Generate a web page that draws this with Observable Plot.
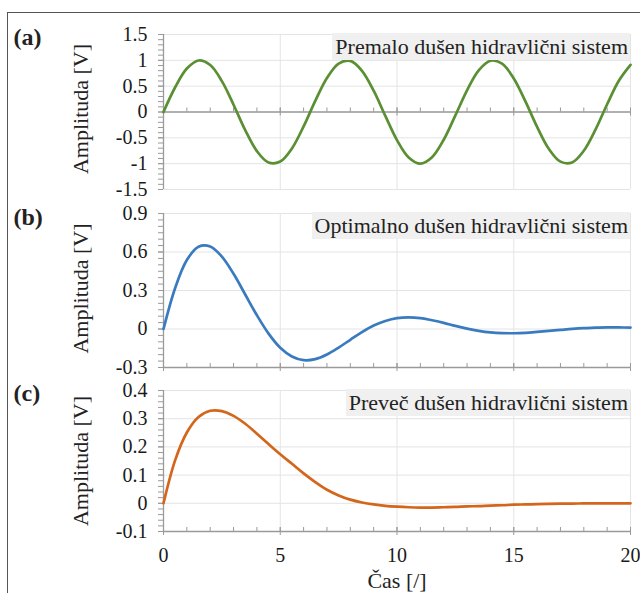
<!DOCTYPE html>
<html><head><meta charset="utf-8">
<script src="https://cdn.jsdelivr.net/npm/d3@7"></script>
<script src="https://cdn.jsdelivr.net/npm/@observablehq/plot@0.6"></script>
<style>
body{margin:0;background:#fff;}
#wrap{position:relative;width:640px;height:593px;overflow:hidden;font-family:"Liberation Serif","Times New Roman",serif;}
#frame{position:absolute;left:7px;top:12px;width:700px;height:700px;border-left:1px solid #555;border-top:1px solid #555;}
.panel{position:absolute;left:0;}
.ttl{position:absolute;right:10px;height:27px;background:#f0f0f0;color:#222;font-size:22px;line-height:27px;padding:0 2px 0 3px;white-space:nowrap;}
</style></head>
<body><div id="wrap"><div id="frame"></div></div>
<script>
const time = [0,0.5,1,1.5,2,2.5,3,3.5,4,4.5,5,5.5,6,6.5,7,7.5,8,8.5,9,9.5,10,10.5,11,11.5,12,12.5,13,13.5,14,14.5,15,15.5,16,16.5,17,17.5,18,18.5,19,19.5,20];
const underdamped = [0,0.479,0.841,0.997,0.909,0.598,0.141,-0.351,-0.757,-0.978,-0.959,-0.706,-0.279,0.215,0.657,0.938,0.989,0.798,0.412,-0.075,-0.544,-0.880,-1.000,-0.875,-0.537,-0.066,0.420,0.804,0.991,0.935,0.650,0.206,-0.288,-0.712,-0.961,-0.976,-0.751,-0.342,0.150,0.605,0.913];
const optimal = [0,0.320,0.537,0.641,0.643,0.564,0.430,0.269,0.107,-0.036,-0.146,-0.214,-0.243,-0.235,-0.199,-0.145,-0.084,-0.024,0.027,0.063,0.085,0.091,0.085,0.068,0.048,0.024,0.003,-0.014,-0.026,-0.032,-0.033,-0.030,-0.023,-0.015,-0.007,0.001,0.007,0.010,0.013,0.012,0.011];
const overdamped = [0,0.153,0.251,0.306,0.328,0.327,0.310,0.282,0.247,0.210,0.174,0.140,0.106,0.075,0.048,0.028,0.013,0.003,-0.004,-0.009,-0.012,-0.014,-0.015,-0.015,-0.014,-0.013,-0.011,-0.010,-0.008,-0.007,-0.005,-0.004,-0.003,-0.002,-0.0015,-0.001,-0.0005,0,0,0,0];

const xTicks = [0,5,10,15,20];
const xGrid = [5,10,15,20];
const yTicksA = [-1.5,-1,-0.5,0,0.5,1,1.5];
const yTicksB = [-0.3,0,0.3,0.6,0.9];
const yTicksC = [-0.1,0,0.1,0.2,0.3,0.4];
const panelLabels = ["(a)","(b)","(c)"];
const titles = ["Premalo dušen hidravlični sistem","Optimalno dušen hidravlični sistem","Preveč dušen hidravlični sistem"];
const yLabel = "Amplituda [V]";
const xLabel = "Čas [/]";

const wrap = document.getElementById("wrap");
const AX = "#9a9a9a", GRID = "#e4e4e4";

function panel(o) {
  const {values, color, yTicks, minorStep, top, height, mt, mb, axisAt, showX, label, title} = o;
  const yMin = yTicks[0], yMax = yTicks[yTicks.length-1];
  const ppu = (height - mt - mb) / (yMax - yMin);
  const px = p => p / ppu;
  const data = time.map((t,i) => ({t, v: values[i]}));
  const minorY = d3.range(Math.round((yMax - yMin)/minorStep) + 1).map(i => +(yMin + i*minorStep).toFixed(4));
  const minorX = d3.range(1, 20);
  const fmt = d => String(d);
  const marks = [
    Plot.gridY(yTicks, {stroke: GRID, strokeOpacity: 1}),
    Plot.gridX(xGrid, {stroke: GRID, strokeOpacity: 1}),
    Plot.ruleY([axisAt], {stroke: AX, strokeWidth: 1.3}),
    Plot.ruleX([0], {stroke: AX, strokeWidth: 1.3}),
    Plot.axisY(minorY, {tickSize: 5, tickFormat: () => "", stroke: AX, label: null}),
    Plot.axisY(yTicks, {tickSize: 5, tickPadding: 11, tickFormat: fmt, stroke: AX, fill: "#1a1a1a", fontSize: 20, label: null}),
    Plot.ruleX(minorX, {x: d => d, y1: axisAt, y2: axisAt + px(4), stroke: AX}),
    Plot.ruleX(xTicks, {x: d => d, y1: axisAt - px(4), y2: axisAt + px(4), stroke: AX}),
    Plot.line(data, {x: "t", y: "v", stroke: color, strokeWidth: 2.7, curve: "catmull-rom"}),
    Plot.text([label], {frameAnchor: "top-left", dx: -150, dy: o.labelDy, textAnchor: "start", lineAnchor: "middle", fontSize: 24, fontWeight: "bold", fill: "#222"}),
    Plot.text([yLabel], {frameAnchor: "left", dx: -83, dy: o.yLabelDy || 0, rotate: -90, textAnchor: "middle", lineAnchor: "middle", fontSize: 22, fill: "#222"})
  ];
  if (showX) {
    marks.push(Plot.axisX(xTicks, {tickSize: 0, tickPadding: 16, tickFormat: fmt, fill: "#1a1a1a", fontSize: 20, label: null}));
    marks.push(Plot.text([xLabel], {frameAnchor: "bottom", dy: 56, lineAnchor: "bottom", fontSize: 22, fill: "#222"}));
  }
  const svg = Plot.plot({
    width: 640, height, marginLeft: 163, marginRight: 10, marginTop: mt, marginBottom: mb,
    x: {domain: [0, 20], axis: null},
    y: {domain: [yMin, yMax], axis: null},
    style: {background: "transparent", overflow: "visible", fontFamily: "Liberation Serif, Times New Roman, serif", fontSize: "20px"},
    marks
  });
  svg.classList.add("panel");
  svg.style.top = top + "px";
  svg.style.position = "absolute";
  wrap.appendChild(svg);
  const box = document.createElement("div");
  box.className = "ttl";
  box.style.top = o.titleTop + "px";
  box.textContent = title;
  wrap.appendChild(box);
}

panel({values: underdamped, color: "#5a8f33", yTicks: yTicksA, minorStep: 0.1, top: 0, height: 190, mt: 34, mb: 1, axisAt: 0, showX: false, label: panelLabels[0], title: titles[0], titleTop: 33, labelDy: 3, yLabelDy: -3});
panel({values: optimal, color: "#3a7bbf", yTicks: yTicksB, minorStep: 0.05, top: 190, height: 180, mt: 23, mb: 3, axisAt: -0.3, showX: false, label: panelLabels[1], title: titles[1], titleTop: 212, labelDy: 4, yLabelDy: -2});
panel({values: overdamped, color: "#d4661c", yTicks: yTicksC, minorStep: 0.02, top: 370, height: 223, mt: 20, mb: 62, axisAt: -0.1, showX: true, label: panelLabels[2], title: titles[2], titleTop: 389, labelDy: 3, yLabelDy: 0});
</script>
</body></html>
